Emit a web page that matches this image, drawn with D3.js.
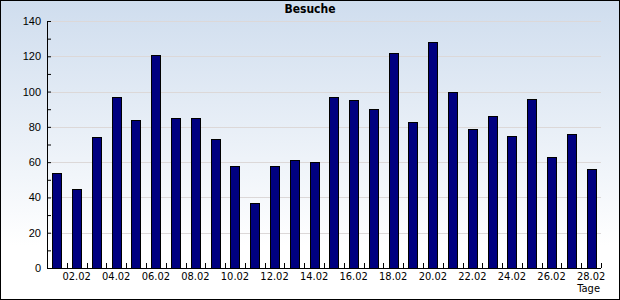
<!DOCTYPE html>
<html>
<head>
<meta charset="utf-8">
<script src="https://cdn.jsdelivr.net/npm/d3@7"></script>
<style>
  body { margin: 0; }
  svg { display: block; font-family: "DejaVu Sans Condensed", "DejaVu Sans", sans-serif; }
</style>
</head>
<body>
<div id="chart"></div>
<script>
// Besuche pro Tag im Februar
const days = d3.range(1, 29).map(d => String(d).padStart(2, '0') + '.02');
const visits = [54, 45, 74, 97, 84, 121, 85, 85, 73, 58, 37, 58, 61, 60,
                97, 95, 90, 122, 83, 128, 100, 79, 86, 75, 96, 63, 76, 56];
const yTicks = [0, 20, 40, 60, 80, 100, 120, 140];

const W = 620, H = 300;
const margin = { top: 21, right: 19, bottom: 32, left: 47 };
const width = W - margin.left - margin.right;
const height = H - margin.top - margin.bottom;

const svg = d3.select('#chart').append('svg')
  .attr('width', W)
  .attr('height', H);

// background gradient
const grad = svg.append('defs').append('linearGradient')
  .attr('id', 'bg')
  .attr('x1', 0).attr('y1', 0).attr('x2', 0).attr('y2', 1);
grad.append('stop').attr('offset', '0%').attr('stop-color', '#cfddee');
grad.append('stop').attr('offset', '82%').attr('stop-color', '#ffffff');
grad.append('stop').attr('offset', '100%').attr('stop-color', '#ffffff');

svg.append('rect')
  .attr('x', 0.5).attr('y', 0.5)
  .attr('width', W - 1).attr('height', H - 1)
  .attr('fill', 'url(#bg)')
  .attr('stroke', '#000');

const g = svg.append('g')
  .attr('transform', `translate(${margin.left},${margin.top})`);

const x = d3.scaleBand()
  .domain(days)
  .range([0, width])
  .paddingInner(0.54)
  .paddingOuter(0.27);

const y = d3.scaleLinear()
  .domain([0, 140])
  .range([height, 0]);

// grid lines
g.selectAll('line.grid')
  .data(yTicks.filter(d => d > 0))
  .enter().append('line')
  .attr('class', 'grid')
  .attr('x1', 4).attr('x2', width)
  .attr('y1', d => Math.round(y(d)) + 0.5)
  .attr('y2', d => Math.round(y(d)) + 0.5)
  .attr('stroke', '#dcd8d8');

// bars
g.selectAll('rect.bar')
  .data(visits)
  .enter().append('rect')
  .attr('class', 'bar')
  .attr('x', (d, i) => Math.round(x(days[i])) + 0.5)
  .attr('y', d => Math.round(y(d)) + 0.5)
  .attr('width', Math.round(x.bandwidth()))
  .attr('height', d => Math.round(height - y(d)))
  .attr('fill', '#000080')
  .attr('stroke', '#000');

// y axis
const yAxis = d3.axisLeft(y)
  .tickValues(d3.range(0, 141, 10))
  .tickSize(-4)
  .tickFormat(d => d % 20 === 0 ? d : '');
const ya = g.append('g').attr('class', 'y-axis').call(yAxis);
ya.select('.domain').attr('stroke', '#000');
ya.selectAll('.tick line').attr('stroke', '#000');
ya.selectAll('text')
  .attr('fill', '#000')
  .style('font-size', '11px')
  .attr('x', -6);

// x axis: ticks at band boundaries, labels under even days
const step = x.step();
const xa = g.append('g').attr('transform', `translate(0,${height})`);
xa.append('line')
  .attr('x1', 0).attr('x2', width)
  .attr('y1', 0.5).attr('y2', 0.5)
  .attr('stroke', '#000');
xa.selectAll('line.tick')
  .data(d3.range(1, days.length + 1))
  .enter().append('line')
  .attr('class', 'tick')
  .attr('x1', i => Math.round(i * step) + 0.5)
  .attr('x2', i => Math.round(i * step) + 0.5)
  .attr('y1', 0).attr('y2', -5)
  .attr('stroke', '#000');
xa.selectAll('text')
  .data(days.filter((d, i) => i % 2 === 1))
  .enter().append('text')
  .attr('x', d => x(d) + x.bandwidth() / 2)
  .attr('y', 12)
  .attr('text-anchor', 'middle')
  .style('font-size', '11px')
  .text(d => d);

// title and axis label
svg.append('text')
  .attr('x', 310).attr('y', 13)
  .attr('text-anchor', 'middle')
  .style('font-size', '12px')
  .style('font-weight', 'bold')
  .text('Besuche');

svg.append('text')
  .attr('x', 600).attr('y', 292)
  .attr('text-anchor', 'end')
  .style('font-size', '11px')
  .text('Tage');
</script>
</body>
</html>
